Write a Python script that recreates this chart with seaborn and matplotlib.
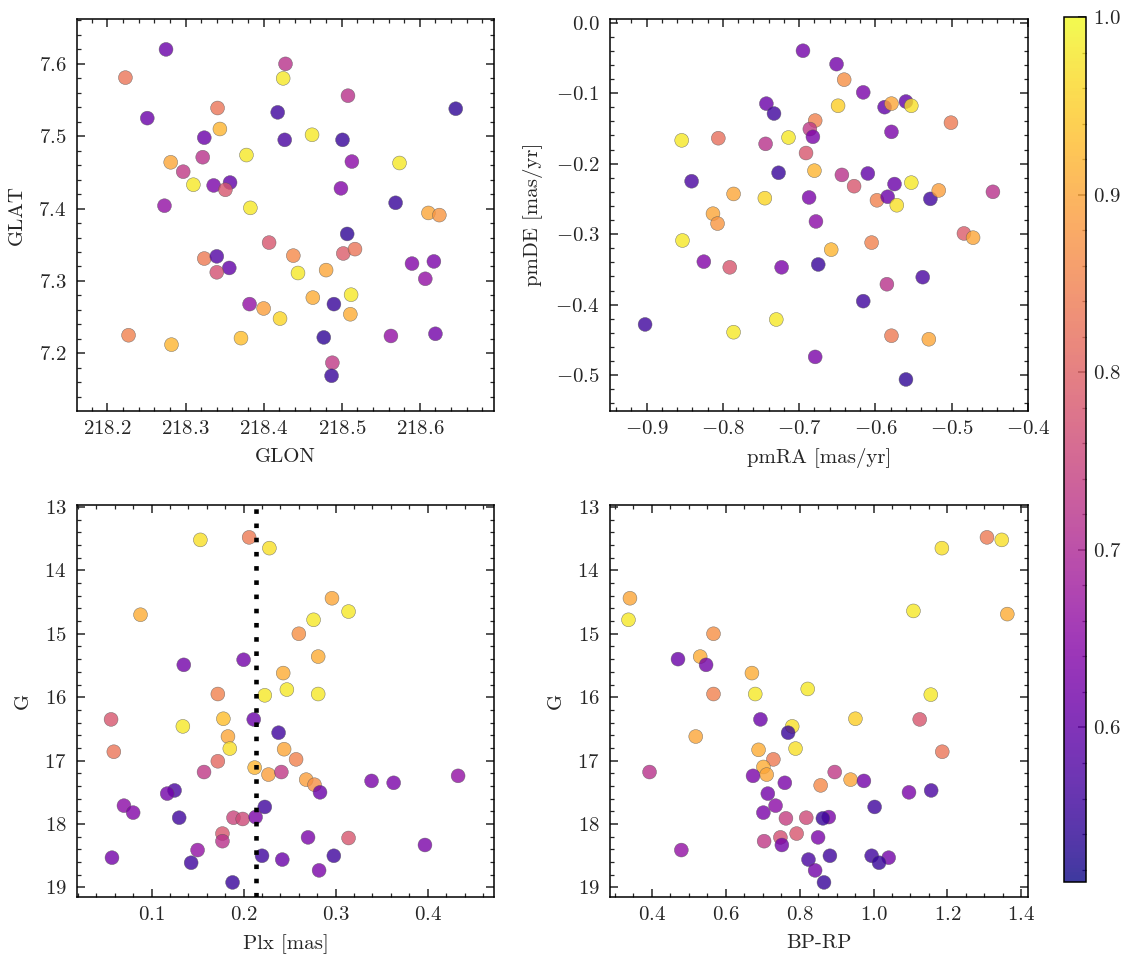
import numpy as np
import pandas as pd
import matplotlib
matplotlib.use("Agg")
import matplotlib.pyplot as plt
import seaborn as sns
from matplotlib.ticker import AutoMinorLocator
from matplotlib.colors import Normalize
from matplotlib.cm import ScalarMappable

# ---------------- data ----------------
# Panel 1: sky positions
glon = [218.275, 218.223, 218.428, 218.425, 218.508, 218.646, 218.251, 218.341, 218.418, 218.344,
        218.324, 218.427, 218.462, 218.501, 218.378, 218.322, 218.281, 218.513, 218.574, 218.297,
        218.310, 218.336, 218.357, 218.351, 218.499, 218.273, 218.383, 218.569, 218.611, 218.625,
        218.507, 218.407, 218.324, 218.340, 218.438, 218.502, 218.517, 218.356, 218.340, 218.444,
        218.480, 218.590, 218.618, 218.607, 218.512, 218.463, 218.382, 218.400, 218.490, 218.421,
        218.511, 218.227, 218.282, 218.371, 218.477, 218.563, 218.620, 218.488, 218.487]
glat = [7.620, 7.581, 7.600, 7.580, 7.556, 7.538, 7.525, 7.539, 7.533, 7.510,
        7.498, 7.495, 7.502, 7.495, 7.474, 7.471, 7.464, 7.465, 7.463, 7.451,
        7.433, 7.432, 7.436, 7.426, 7.428, 7.404, 7.401, 7.408, 7.394, 7.391,
        7.365, 7.353, 7.331, 7.334, 7.335, 7.338, 7.344, 7.318, 7.312, 7.311,
        7.315, 7.324, 7.327, 7.303, 7.281, 7.277, 7.268, 7.262, 7.268, 7.248,
        7.254, 7.225, 7.212, 7.221, 7.222, 7.224, 7.227, 7.187, 7.169]
p_sky = [0.61, 0.83, 0.72, 0.98, 0.72, 0.54, 0.61, 0.83, 0.56, 0.92,
         0.61, 0.57, 0.98, 0.55, 0.98, 0.72, 0.90, 0.65, 0.98, 0.73,
         0.98, 0.63, 0.60, 0.78, 0.64, 0.66, 0.98, 0.55, 0.90, 0.88,
         0.54, 0.78, 0.84, 0.58, 0.86, 0.79, 0.83, 0.60, 0.77, 0.98,
         0.90, 0.64, 0.63, 0.66, 0.98, 0.91, 0.66, 0.89, 0.55, 0.96,
         0.91, 0.85, 0.92, 0.93, 0.54, 0.66, 0.62, 0.73, 0.55]

# Panel 2: proper motions
pmra = [-0.695, -0.651, -0.641, -0.616, -0.743, -0.733, -0.649, -0.588, -0.579, -0.560,
        -0.553, -0.679, -0.686, -0.682, -0.501, -0.854, -0.806, -0.744, -0.714, -0.579,
        -0.691, -0.727, -0.680, -0.841, -0.644, -0.610, -0.628, -0.553, -0.786, -0.575,
        -0.745, -0.687, -0.598, -0.584, -0.572, -0.528, -0.517, -0.446, -0.813, -0.807,
        -0.678, -0.853, -0.484, -0.472, -0.605, -0.658, -0.825, -0.791, -0.723, -0.675,
        -0.538, -0.585, -0.616, -0.902, -0.730, -0.786, -0.579, -0.530, -0.679, -0.560]
pmde = [-0.040, -0.059, -0.081, -0.099, -0.115, -0.129, -0.118, -0.120, -0.115, -0.112,
        -0.118, -0.139, -0.151, -0.162, -0.142, -0.167, -0.164, -0.172, -0.163, -0.155,
        -0.185, -0.213, -0.210, -0.225, -0.216, -0.214, -0.232, -0.227, -0.243, -0.229,
        -0.249, -0.248, -0.252, -0.247, -0.259, -0.250, -0.238, -0.240, -0.271, -0.285,
        -0.282, -0.309, -0.299, -0.305, -0.312, -0.322, -0.339, -0.347, -0.347, -0.343,
        -0.361, -0.371, -0.395, -0.428, -0.421, -0.439, -0.444, -0.449, -0.474, -0.506]
p_pm = [0.62, 0.62, 0.87, 0.63, 0.61, 0.56, 0.95, 0.60, 0.90, 0.60,
        0.97, 0.85, 0.73, 0.63, 0.84, 0.98, 0.82, 0.72, 0.98, 0.63,
        0.78, 0.55, 0.92, 0.57, 0.72, 0.60, 0.78, 0.98, 0.90, 0.61,
        0.96, 0.63, 0.85, 0.61, 0.97, 0.56, 0.89, 0.72, 0.90, 0.88,
        0.65, 0.98, 0.79, 0.90, 0.85, 0.92, 0.64, 0.78, 0.63, 0.55,
        0.57, 0.72, 0.56, 0.56, 0.98, 0.98, 0.84, 0.90, 0.63, 0.54]

# Panel 3: parallax vs G
plx = [0.153, 0.206, 0.228, 0.296, 0.314, 0.088, 0.276, 0.260, 0.200, 0.135,
       0.281, 0.243, 0.172, 0.223, 0.247, 0.281, 0.056, 0.134, 0.178, 0.211,
       0.238, 0.183, 0.185, 0.059, 0.244, 0.257, 0.172, 0.212, 0.157, 0.227,
       0.241, 0.268, 0.277, 0.339, 0.363, 0.433, 0.125, 0.117, 0.283, 0.070,
       0.080, 0.223, 0.130, 0.189, 0.199, 0.213, 0.177, 0.177, 0.270, 0.314,
       0.397, 0.150, 0.057, 0.143, 0.220, 0.242, 0.298, 0.282, 0.188]
g_plx = [13.52, 13.48, 13.65, 14.44, 14.65, 14.70, 14.78, 15.00, 15.41, 15.49,
         15.36, 15.62, 15.95, 15.97, 15.88, 15.95, 16.35, 16.46, 16.34, 16.35,
         16.56, 16.62, 16.81, 16.86, 16.82, 16.98, 17.01, 17.11, 17.18, 17.22,
         17.18, 17.30, 17.38, 17.32, 17.35, 17.24, 17.47, 17.52, 17.50, 17.71,
         17.82, 17.73, 17.90, 17.90, 17.92, 17.89, 18.15, 18.27, 18.21, 18.22,
         18.33, 18.41, 18.53, 18.61, 18.50, 18.56, 18.50, 18.73, 18.92]
p_plx = [0.97, 0.84, 0.97, 0.90, 0.98, 0.91, 0.98, 0.87, 0.62, 0.62,
         0.91, 0.91, 0.85, 0.98, 0.98, 0.98, 0.78, 0.98, 0.93, 0.61,
         0.56, 0.90, 0.97, 0.83, 0.90, 0.85, 0.81, 0.92, 0.73, 0.89,
         0.73, 0.89, 0.87, 0.63, 0.63, 0.66, 0.57, 0.62, 0.61, 0.65,
         0.64, 0.56, 0.56, 0.75, 0.76, 0.63, 0.78, 0.72, 0.63, 0.78,
         0.63, 0.66, 0.62, 0.56, 0.56, 0.61, 0.56, 0.63, 0.55]
plx_mean = 0.213

# Panel 4: colour-magnitude diagram
bprp = [1.307, 1.347, 1.185, 0.341, 0.337, 1.108, 1.362, 0.567, 0.471, 0.531,
        0.547, 0.671, 0.567, 0.680, 0.822, 1.155, 0.694, 0.951, 1.125, 0.780,
        0.769, 0.519, 0.689, 0.789, 1.186, 0.729, 0.702, 0.711, 0.394, 0.674,
        0.895, 0.760, 0.857, 0.938, 0.974, 1.096, 1.156, 0.714, 1.003, 0.735,
        0.702, 0.763, 0.818, 0.879, 0.863, 0.748, 0.792, 0.850, 0.704, 0.752,
        0.480, 0.824, 0.882, 0.995, 1.041, 1.015, 0.842, 0.866]
g_cmd = [13.48, 13.52, 13.65, 14.44, 14.78, 14.64, 14.69, 15.00, 15.40, 15.36,
         15.49, 15.62, 15.95, 15.95, 15.87, 15.96, 16.35, 16.34, 16.35, 16.46,
         16.56, 16.62, 16.83, 16.81, 16.86, 16.98, 17.10, 17.22, 17.18, 17.24,
         17.18, 17.35, 17.39, 17.30, 17.32, 17.50, 17.47, 17.52, 17.73, 17.71,
         17.82, 17.91, 17.90, 17.89, 17.91, 18.21, 18.15, 18.21, 18.27, 18.33,
         18.41, 18.56, 18.50, 18.50, 18.53, 18.61, 18.73, 18.92]
p_cmd = [0.84, 0.97, 0.97, 0.90, 0.98, 0.98, 0.91, 0.87, 0.61, 0.91,
         0.62, 0.91, 0.85, 0.98, 0.98, 0.98, 0.61, 0.95, 0.78, 0.97,
         0.55, 0.90, 0.91, 0.97, 0.83, 0.84, 0.91, 0.90, 0.72, 0.63,
         0.73, 0.63, 0.86, 0.90, 0.62, 0.63, 0.57, 0.62, 0.56, 0.65,
         0.63, 0.74, 0.76, 0.63, 0.55, 0.77, 0.78, 0.63, 0.73, 0.62,
         0.66, 0.57, 0.56, 0.56, 0.62, 0.55, 0.62, 0.55]

vmin, vmax = 0.513, 1.0
ALPHA = 0.8

# ---------------- style ----------------
sns.set_style("ticks")
plt.rcParams.update({
    "font.family": "serif",
    "font.serif": ["cmr10", "DejaVu Serif"],
    "mathtext.fontset": "cm",
    "axes.formatter.use_mathtext": True,
    "axes.unicode_minus": True,
    "font.size": 15,
    "axes.labelsize": 15,
    "xtick.labelsize": 15,
    "ytick.labelsize": 15,
    "axes.linewidth": 1.1,
    "xtick.direction": "in",
    "ytick.direction": "in",
    "xtick.top": True,
    "ytick.right": True,
    "xtick.major.size": 5.5,
    "ytick.major.size": 5.5,
    "xtick.minor.size": 3,
    "ytick.minor.size": 3,
    "xtick.major.width": 1.1,
    "ytick.major.width": 1.1,
    "xtick.minor.width": 0.9,
    "ytick.minor.width": 0.9,
    "xtick.minor.visible": True,
    "ytick.minor.visible": True,
    "xtick.major.pad": 6.5,
    "ytick.major.pad": 7.5,
    "axes.edgecolor": "black",
})

fig = plt.figure(figsize=(11.33, 9.65), dpi=100)
W, H = 1133.0, 965.0

def add_ax(x0, y0, x1, y1):
    return fig.add_axes([x0 / W, 1 - y1 / H, (x1 - x0) / W, (y1 - y0) / H])

ax1 = add_ax(77, 19, 494, 410.5)
ax2 = add_ax(610, 19, 1028, 410.5)
ax3 = add_ax(77, 505, 494, 897)
ax4 = add_ax(610, 505, 1028, 897)
cax = add_ax(1064, 17, 1086, 882)

scatter_kw = dict(palette="plasma", hue_norm=(vmin, vmax), legend=False,
                  s=100, alpha=ALPHA, edgecolor="0.35", linewidth=0.35)

XPAD, YPAD = 7.5, 9

df1 = pd.DataFrame({"GLON": glon, "GLAT": glat, "P": p_sky})
sns.scatterplot(data=df1, x="GLON", y="GLAT", hue="P", ax=ax1, **scatter_kw)
ax1.set_xlim(218.161, 218.695)
ax1.set_ylim(7.121, 7.662)
ax1.set_xlabel("GLON", labelpad=XPAD)
ax1.set_ylabel("GLAT", labelpad=YPAD)

df2 = pd.DataFrame({"pmRA": pmra, "pmDE": pmde, "P": p_pm})
sns.scatterplot(data=df2, x="pmRA", y="pmDE", hue="P", ax=ax2, **scatter_kw)
ax2.set_xlim(-0.948, -0.4)
ax2.set_ylim(-0.55, 0.005)
ax2.set_xlabel("pmRA [mas/yr]", labelpad=XPAD)
ax2.set_ylabel("pmDE [mas/yr]", labelpad=YPAD)

df3 = pd.DataFrame({"Plx": plx, "G": g_plx, "P": p_plx})
sns.scatterplot(data=df3, x="Plx", y="G", hue="P", ax=ax3, **scatter_kw)
ax3.axvline(plx_mean, color="black", lw=3.3, linestyle=(0, (1, 2.1)),
            dash_capstyle="butt", zorder=5)
ax3.set_xlim(0.019, 0.472)
ax3.set_ylim(19.15, 12.97)
ax3.set_xlabel("Plx [mas]", labelpad=XPAD)
ax3.set_ylabel("G", labelpad=YPAD)

df4 = pd.DataFrame({"BP-RP": bprp, "G": g_cmd, "P": p_cmd})
sns.scatterplot(data=df4, x="BP-RP", y="G", hue="P", ax=ax4, **scatter_kw)
ax4.set_xlim(0.287, 1.418)
ax4.set_ylim(19.15, 12.97)
ax4.set_xlabel("BP-RP", labelpad=XPAD)
ax4.set_ylabel("G", labelpad=YPAD)

for ax in (ax1, ax2, ax3, ax4):
    ax.xaxis.set_minor_locator(AutoMinorLocator())
    ax.yaxis.set_minor_locator(AutoMinorLocator())
    ax.ticklabel_format(useOffset=False, axis="both")
    ax.tick_params(which="both", direction="in", top=True, right=True)
    for sp in ax.spines.values():
        sp.set_visible(True)
        sp.set_linewidth(1.1)

sm = ScalarMappable(norm=Normalize(vmin, vmax), cmap="plasma")
sm.set_array([])
cbar = fig.colorbar(sm, cax=cax, alpha=ALPHA)
cbar.set_ticks([0.6, 0.7, 0.8, 0.9, 1.0])
cbar.ax.yaxis.set_minor_locator(AutoMinorLocator(5))
cbar.ax.tick_params(which="both", direction="in", right=True, left=False, pad=5)
cbar.ax.tick_params(which="major", length=5.5, width=1.1)
cbar.ax.tick_params(which="minor", length=3, width=0.9)
cbar.outline.set_linewidth(1.1)

fig.savefig("out.png", dpi=100)
